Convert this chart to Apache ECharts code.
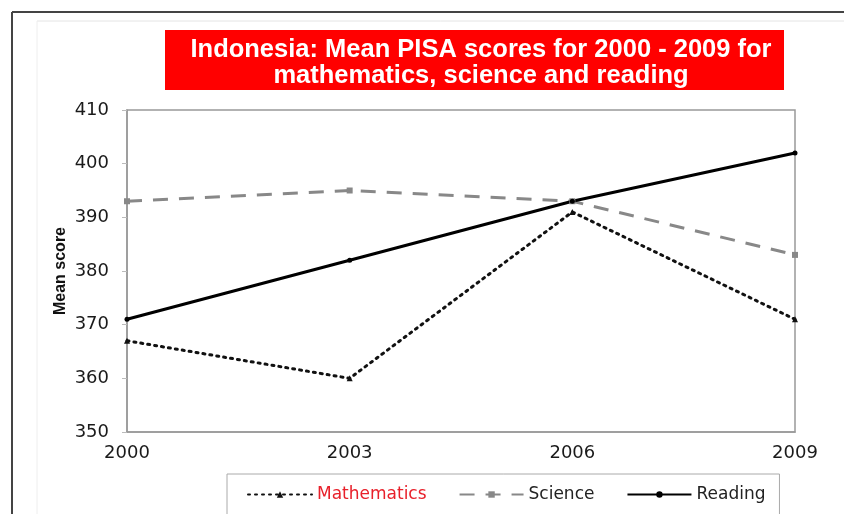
<!DOCTYPE html>
<html>
<head>
<meta charset="utf-8">
<script src="https://cdn.jsdelivr.net/npm/echarts@6/dist/echarts.min.js"></script>
<style>html,body{margin:0;padding:0;background:#fff;}#c{width:844px;height:514px;}</style>
</head>
<body>
<div id="c"></div>
<script>
const years = ['2000', '2003', '2006', '2009'];
const mathematics = [367, 360, 391, 371];
const science = [393, 395, 393, 383];
const reading = [371, 382, 393, 402];
const titleText = 'Indonesia: Mean PISA scores for 2000 - 2009 for\nmathematics, science and reading';

const chart = echarts.init(document.getElementById('c'));
const font = 'DejaVu Sans, Liberation Sans, sans-serif';
const tfont = 'Liberation Sans, Arial, sans-serif';
chart.setOption({
  animation: false,
  backgroundColor: '#fff',
  graphic: [
    { type: 'line', shape: { x1: 12, y1: 12, x2: 844, y2: 12 }, style: { stroke: '#444', lineWidth: 2 } },
    { type: 'line', shape: { x1: 12, y1: 12, x2: 12, y2: 514 }, style: { stroke: '#444', lineWidth: 2 } },
    { type: 'line', shape: { x1: 37, y1: 21, x2: 844, y2: 21 }, style: { stroke: '#e4e4e4', lineWidth: 1 } },
    { type: 'line', shape: { x1: 37, y1: 21, x2: 37, y2: 514 }, style: { stroke: '#eeeeee', lineWidth: 1 } },
    { type: 'rect', shape: { x: 165, y: 30, width: 619, height: 60 }, style: { fill: '#ff0000' }, z: 0 }
  ],
  title: {
    text: titleText,
    left: 476,
    top: 32,
    textAlign: 'center',
    textStyle: { color: '#fff', fontSize: 25.5, fontWeight: 'bold', fontFamily: tfont, lineHeight: 26 },
    z: 5
  },
  legend: {
    left: 227,
    top: 474,
    width: 580,
    padding: [12, 14, 30, 20],
    borderColor: '#aaa',
    borderWidth: 1,
    itemWidth: 64,
    itemHeight: 8,
    itemGap: 32,
    textStyle: { fontSize: 17, color: '#222', fontFamily: font },
    data: [
      { name: 'Mathematics', textStyle: { color: '#e8202a' } },
      { name: 'Science' },
      { name: 'Reading' }
    ]
  },
  grid: {
    left: 127, right: 49, top: 110, bottom: 82,
    show: true, borderColor: '#999', borderWidth: 1.5
  },
  xAxis: {
    type: 'category',
    data: years,
    boundaryGap: false,
    axisLine: { lineStyle: { color: '#999', width: 1.5 } },
    axisTick: { show: false },
    axisLabel: { fontSize: 18, color: '#1a1a1a', fontFamily: font, margin: 12 },
    splitLine: { show: false }
  },
  yAxis: {
    type: 'value',
    min: 350, max: 410, interval: 10,
    name: 'Mean score',
    nameLocation: 'middle',
    nameGap: 58,
    nameMoveOverlap: false,
    nameTextStyle: { fontSize: 16, fontWeight: 'bold', color: '#111', fontFamily: tfont },
    axisLine: { show: true, lineStyle: { color: '#999', width: 1.5 } },
    axisTick: { show: true, length: 5, lineStyle: { color: '#bbb' } },
    axisLabel: { fontSize: 18, color: '#1a1a1a', fontFamily: font, margin: 18 },
    splitLine: { show: false }
  },
  series: [
    {
      name: 'Mathematics', type: 'line', data: mathematics,
      symbol: 'triangle', symbolSize: 6, showSymbol: true,
      itemStyle: { color: '#111' },
      lineStyle: { color: '#111', width: 3, type: [2, 5], cap: 'round' }
    },
    {
      name: 'Science', type: 'line', data: science,
      symbol: 'rect', symbolSize: 6,
      itemStyle: { color: '#888' },
      lineStyle: { color: '#888', width: 3, type: [15, 11] }
    },
    {
      name: 'Reading', type: 'line', data: reading,
      symbol: 'circle', symbolSize: 5,
      itemStyle: { color: '#000' },
      lineStyle: { color: '#000', width: 3 }
    }
  ]
});
</script>
</body>
</html>
